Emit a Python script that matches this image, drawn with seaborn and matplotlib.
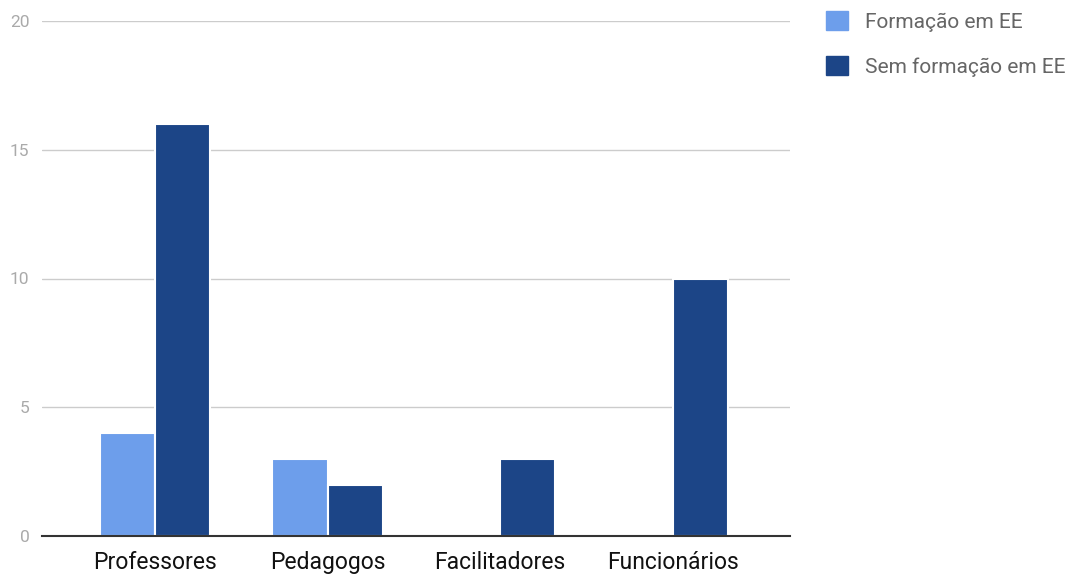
"""
Bar chart: Formação em EE vs. sem formação, by role.
"""

import matplotlib
matplotlib.use("Agg")
import matplotlib.pyplot as plt
import seaborn as sns
import pandas as pd

categories = ["Professores", "Pedagogos", "Facilitadores", "Funcionários"]
series_names = ["Formação em EE", "Sem formação em EE"]
com_formacao = [4, 3, 0, 0]
sem_formacao = [16, 2, 3, 10]
y_ticks = [0, 5, 10, 15, 20]

colors = ["#6d9eeb", "#1c4587"]


def main():
    sns.set_theme(style="white")
    plt.rcParams["font.family"] = ["Roboto", "DejaVu Sans"]

    df = pd.DataFrame({
        "categoria": categories * 2,
        "serie": [series_names[0]] * len(categories) + [series_names[1]] * len(categories),
        "valor": com_formacao + sem_formacao,
    })

    fig = plt.figure(figsize=(10.7, 5.74), dpi=100)
    ax = fig.add_axes([42 / 1070, 38 / 574, 748 / 1070, 515 / 574])

    sns.barplot(data=df, x="categoria", y="valor", hue="serie", palette=colors,
                saturation=1, width=0.64, ax=ax, edgecolor="white", linewidth=1.5,
                legend=False)

    ax.set_ylim(0, 20)
    ax.set_yticks(y_ticks)
    ax.set_xlim(-0.655, 3.68)
    ax.yaxis.grid(True, color="#cccccc", linewidth=1)
    ax.set_axisbelow(True)
    for side in ["left", "right", "top"]:
        ax.spines[side].set_visible(False)
    ax.spines["bottom"].set_color("#333333")
    ax.spines["bottom"].set_linewidth(1.5)
    ax.set_xlabel("")
    ax.set_ylabel("")
    ax.tick_params(axis="y", length=0, labelsize=12.5, labelcolor="#aaaaaa", pad=9)
    ax.tick_params(axis="x", length=0, labelsize=16.5, labelcolor="#111111", pad=11)

    handles = [plt.Rectangle((0, 0), 1, 1, color=c) for c in colors]
    fig.legend(handles, series_names, loc="upper left",
               bbox_to_anchor=(826 / 1070, 1 - 11 / 574),
               frameon=False, fontsize=15, labelcolor="#666666", handlelength=1.06,
               handleheight=1.06, handletextpad=0.8, labelspacing=1.15,
               borderpad=0, borderaxespad=0)

    fig.savefig("out.png", dpi=100)
    plt.close(fig)


if __name__ == "__main__":
    main()
